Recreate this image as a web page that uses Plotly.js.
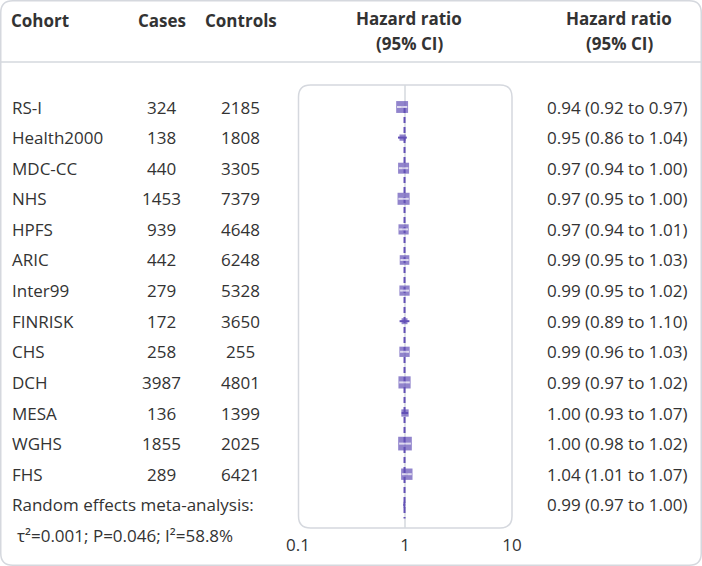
<!DOCTYPE html>
<html>
<head>
<meta charset="utf-8">
<script src="https://cdn.plot.ly/plotly-3.0.1.min.js"></script>
<style>html,body{margin:0;padding:0;background:#fff;}#chart{width:702px;height:566px;}</style>
</head>
<body>
<div id="chart"></div>
<script>
// ---- data ----
const cohorts = ["RS-I","Health2000","MDC-CC","NHS","HPFS","ARIC","Inter99","FINRISK","CHS","DCH","MESA","WGHS","FHS"];
const cases = [324,138,440,1453,939,442,279,172,258,3987,136,1855,289];
const controls = [2185,1808,3305,7379,4648,6248,5328,3650,255,4801,1399,2025,6421];
const hr = [0.94,0.95,0.97,0.97,0.97,0.99,0.99,0.99,0.99,0.99,1.00,1.00,1.04];
const ciLow = [0.92,0.86,0.94,0.95,0.94,0.95,0.95,0.89,0.96,0.97,0.93,0.98,1.01];
const ciHigh = [0.97,1.04,1.00,1.00,1.01,1.03,1.02,1.10,1.03,1.02,1.07,1.02,1.07];
const metaLabel = "Random effects meta-analysis:";
const metaHr = 0.99, metaLow = 0.97, metaHigh = 1.00;
const hetText = "\u03c4\u00b2=0.001; P=0.046; I\u00b2=58.8%";
const tickVals = [0.1, 1, 10];
const tickText = ["0.1", "1", "10"];

// ---- layout helpers ----
const W = 702, H = 566;
const px = x => x / W;
const py = y => 1 - y / H;
const FONT = "Open Sans, Noto Sans, sans-serif";
const FS = 17;
const TXT = "#333333";
const PURPLE = "#6250b6";
const BORDER = "#d5d8de";

function roundRect(x0, y0, x1, y1, r) {
  return "M" + px(x0 + r) + "," + py(y0) +
    " L" + px(x1 - r) + "," + py(y0) +
    " Q" + px(x1) + "," + py(y0) + " " + px(x1) + "," + py(y0 + r) +
    " L" + px(x1) + "," + py(y1 - r) +
    " Q" + px(x1) + "," + py(y1) + " " + px(x1 - r) + "," + py(y1) +
    " L" + px(x0 + r) + "," + py(y1) +
    " Q" + px(x0) + "," + py(y1) + " " + px(x0) + "," + py(y1 - r) +
    " L" + px(x0) + "," + py(y0 + r) +
    " Q" + px(x0) + "," + py(y0) + " " + px(x0 + r) + "," + py(y0) + " Z";
}

const rowPitch = 30.6, firstRowPx = 107, plotBottomPx = 528;
const rowPx = i => firstRowPx + i * rowPitch;

const rows = cohorts.map((_, i) => i);
const metaRow = cohorts.length;
const hetRow = cohorts.length + 1;

// marker size from precision (inverse of log-CI width)
const sizes = ciLow.map((lo, i) => {
  const se = (Math.log(ciHigh[i]) - Math.log(lo)) / (2 * 1.96);
  return 1.38 / Math.sqrt(se);
});
const bigIdx = rows.filter(i => sizes[i] >= 7.5);

const traces = [];
// dashed vertical line at overall estimate
traces.push({
  x: [metaHr, metaHr], y: [0, metaRow + 0.45], mode: "lines",
  line: {color: PURPLE, width: 2, dash: "6px,4px"}, hoverinfo: "skip", showlegend: false
});
// CI bars + squares
traces.push({
  x: hr, y: rows, mode: "markers", type: "scatter",
  marker: {symbol: "square", size: sizes, color: PURPLE, line: {width: 0}},
  error_x: {type: "data", symmetric: false,
    array: hr.map((v, i) => ciHigh[i] - v), arrayminus: hr.map((v, i) => v - ciLow[i]),
    color: PURPLE, thickness: 2, width: 0},
  showlegend: false, hoverinfo: "skip"
});
// white stripe inside larger squares
traces.push({
  x: bigIdx.map(i => hr[i]), y: bigIdx, mode: "markers", type: "scatter",
  marker: {symbol: "line-ew", size: bigIdx.map(i => sizes[i] * 0.62),
    color: "#ffffff", line: {color: "#ffffff", width: 2}},
  showlegend: false, hoverinfo: "skip"
});
// meta diamond
traces.push({
  x: [metaLow, metaHr, metaHigh, metaHr, metaLow],
  y: [metaRow, metaRow - 0.12, metaRow, metaRow + 0.12, metaRow],
  mode: "lines", fill: "toself", fillcolor: PURPLE, line: {color: PURPLE, width: 1},
  showlegend: false, hoverinfo: "skip"
});

// annotations
const ann = [];
function addText(text, x, ypx, anchor) {
  ann.push({
    text: text, x: px(x), xref: "paper", y: py(ypx), yref: "paper",
    xanchor: anchor, yanchor: "middle", showarrow: false,
    font: {family: FONT, size: FS, color: TXT}
  });
}
function addHeader(text, x, ypx, anchor, vanchor) {
  ann.push({
    text: text, x: px(x), xref: "paper", y: py(ypx), yref: "paper",
    xanchor: anchor, yanchor: vanchor || "middle", showarrow: false, borderpad: 0,
    font: {family: FONT, size: FS, color: TXT, weight: 700}
  });
}
addHeader("Cohort", 10, 20, "left");
addHeader("Cases", 162, 20, "center");
addHeader("Controls", 241, 20, "center");
addHeader("Hazard ratio", 409, 30.5, "center", "bottom");
addHeader("(95% CI)", 409, 30.5, "center", "top");
addHeader("Hazard ratio", 619, 30.5, "center", "bottom");
addHeader("(95% CI)", 619, 30.5, "center", "top");

const fmt = v => v.toFixed(2);
cohorts.forEach((c, i) => {
  addText(c, 10, rowPx(i), "left");
  addText(String(cases[i]), 161, rowPx(i), "center");
  addText(String(controls[i]), 240, rowPx(i), "center");
  addText(fmt(hr[i]) + " (" + fmt(ciLow[i]) + " to " + fmt(ciHigh[i]) + ")", 545, rowPx(i), "left");
});
addText(metaLabel, 10, rowPx(metaRow), "left");
addText(fmt(metaHr) + " (" + fmt(metaLow) + " to " + fmt(metaHigh) + ")", 545, rowPx(metaRow), "left");
addText(hetText, 15, rowPx(hetRow), "left");

const shapes = [
  {type: "path", xref: "paper", yref: "paper", path: roundRect(0.75, 0.75, 701.25, 565.25, 12),
   line: {color: BORDER, width: 1.5}, layer: "below"},
  {type: "line", xref: "paper", yref: "paper", x0: px(1), x1: px(701), y0: py(62), y1: py(62),
   line: {color: BORDER, width: 1.5}, layer: "below"},
  {type: "path", xref: "paper", yref: "paper", path: roundRect(298.5, 85, 512, 528, 12),
   line: {color: BORDER, width: 1.5}, layer: "below"},
  {type: "line", xref: "x", yref: "paper", x0: 1, x1: 1, y0: py(85), y1: py(528),
   line: {color: BORDER, width: 1.5}, layer: "below"}
];

const layout = {
  width: W, height: H,
  margin: {l: 0, r: 0, t: 0, b: 0, pad: 0},
  paper_bgcolor: "#ffffff", plot_bgcolor: "rgba(0,0,0,0)",
  showlegend: false,
  xaxis: {type: "log", range: [-1, 1], domain: [px(298), px(512)],
    tickvals: tickVals, ticktext: tickText, showgrid: false, zeroline: false,
    showline: false, ticks: "", ticklabelstandoff: 5,
    tickfont: {family: FONT, size: FS, color: TXT}, fixedrange: true},
  yaxis: {range: [(plotBottomPx - firstRowPx) / rowPitch, -firstRowPx / rowPitch],
    domain: [1 - plotBottomPx / H, 1], visible: false, showgrid: false, zeroline: false,
    fixedrange: true},
  shapes: shapes,
  annotations: ann
};

Plotly.newPlot("chart", traces, layout, {displayModeBar: false, staticPlot: true});
</script>
</body>
</html>
